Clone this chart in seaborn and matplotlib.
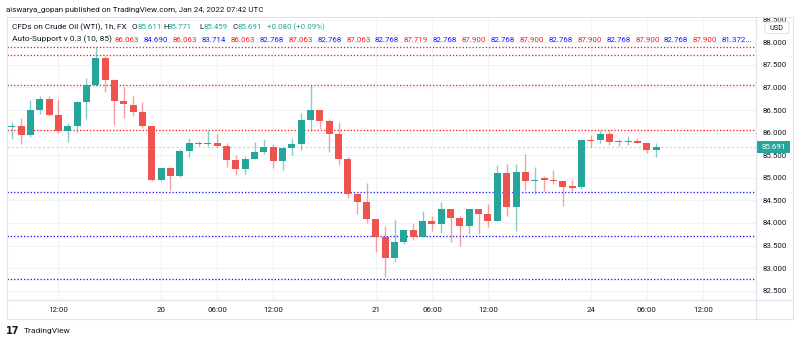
import numpy as np
import pandas as pd
import matplotlib
matplotlib.use("Agg")
import matplotlib.pyplot as plt
import seaborn as sns
from matplotlib.patches import Rectangle, FancyBboxPatch
from matplotlib.lines import Line2D
from matplotlib.transforms import Bbox

# ---------------- data (hourly WTI candles) ----------------
opens = [86.13, 86.14, 85.95, 86.51, 86.75, 86.39, 86.03, 86.14, 86.67, 87.06,
         87.65, 87.17, 86.69, 86.62, 86.46, 86.14, 84.95, 85.22, 85.03, 85.60,
         85.77, 85.75, 85.78, 85.71, 85.39, 85.19, 85.42, 85.56, 85.69, 85.37,
         85.66, 85.75, 86.27, 86.49, 86.25, 85.98, 85.42, 84.64, 84.46, 84.08,
         83.69, 83.23, 83.58, 83.84, 83.69, 84.05, 83.98, 84.30, 84.11, 83.93,
         84.30, 84.19, 84.05, 85.11, 84.36, 85.12, 84.92, 84.97, 84.96, 84.93,
         84.81, 84.80, 85.83, 85.83, 85.97, 85.81, 85.80, 85.82, 85.78, 85.611]
highs = [86.23, 86.33, 86.73, 86.80, 86.80, 86.75, 86.21, 86.71, 87.20, 87.90,
         87.70, 87.19, 87.02, 86.80, 86.67, 86.14, 85.22, 85.25, 85.64, 85.88,
         85.81, 86.06, 85.98, 85.77, 85.50, 85.48, 85.80, 85.86, 85.75, 85.68,
         85.89, 86.43, 87.06, 86.51, 86.30, 86.23, 85.45, 84.64, 84.89, 84.08,
         83.94, 84.06, 83.84, 83.99, 84.26, 84.15, 84.46, 84.30, 84.16, 84.30,
         84.32, 84.43, 85.28, 85.31, 85.31, 85.53, 85.25, 85.03, 85.18, 84.93,
         84.96, 85.85, 85.94, 86.06, 86.06, 85.86, 85.92, 85.89, 85.78, 85.771]
lows = [85.86, 85.75, 85.90, 86.42, 86.36, 86.00, 85.80, 86.02, 86.30, 87.04,
        86.89, 86.17, 86.32, 86.37, 86.11, 84.93, 84.93, 84.72, 85.02, 85.46,
        85.70, 85.70, 85.68, 85.24, 85.07, 85.08, 85.41, 85.53, 85.21, 85.18,
        85.50, 85.62, 86.04, 86.09, 85.57, 85.28, 84.56, 84.21, 84.01, 83.36,
        82.80, 83.13, 83.53, 83.63, 83.68, 83.82, 83.77, 83.57, 83.49, 83.75,
        83.75, 83.91, 84.05, 84.16, 83.83, 84.72, 84.65, 84.71, 84.86, 84.37,
        84.71, 84.76, 85.68, 85.78, 85.72, 85.70, 85.73, 85.76, 85.55, 85.459]
closes = [86.14, 85.95, 86.51, 86.75, 86.39, 86.03, 86.14, 86.67, 87.06, 87.65,
          87.17, 86.69, 86.63, 86.45, 86.14, 84.95, 85.22, 85.03, 85.60, 85.76,
          85.75, 85.77, 85.71, 85.39, 85.19, 85.42, 85.56, 85.69, 85.37, 85.66,
          85.75, 86.27, 86.49, 86.25, 85.98, 85.42, 84.64, 84.46, 84.08, 83.69,
          83.23, 83.58, 83.84, 83.69, 84.05, 83.98, 84.30, 84.11, 83.93, 84.30,
          84.19, 84.05, 85.11, 84.36, 85.12, 84.92, 84.96, 84.96, 84.93, 84.80,
          84.78, 85.83, 85.82, 85.97, 85.79, 85.80, 85.82, 85.78, 85.61, 85.691]

time_tick_pos = [5, 16, 22, 28, 39, 45, 51, 62, 68, 74]
time_tick_labels = ["12:00", "20", "06:00", "12:00", "21", "06:00", "12:00", "24", "06:00", "12:00"]

support_levels = [84.690, 83.714, 82.768]
resistance_levels = [86.063, 87.063, 87.719, 87.900]
last_price = 85.691

legend_values = ["86.063", "84.690", "86.063", "83.714", "86.063", "82.768", "87.063", "82.768",
                 "87.063", "82.768", "87.719", "82.768", "87.900", "82.768", "87.900", "82.768",
                 "87.900", "82.768", "87.900", "82.768", "87.900", "81.372..."]

price_ticks = [82.5, 83.0, 83.5, 84.0, 84.5, 85.0, 85.5, 86.0, 86.5, 87.0, 87.5, 88.0, 88.5]

# ---------------- style ----------------
sns.set_theme(style="white")
plt.rcParams['font.family'] = ['Roboto', 'DejaVu Sans']

UP = "#26a69a"
DOWN = "#ef5350"
TXT = "#131722"
GRID = "#f0f3fa"
BORDER = "#e0e3eb"
RED = "#ff1a1a"
BLUE = "#1a1aff"

W, H = 800, 343
fig = plt.figure(figsize=(W / 100, H / 100), dpi=100)
fig.patch.set_facecolor("white")


def fx(px):
    return px / W


def fy(py):
    return 1 - py / H


ax = fig.add_axes([fx(6.7), fy(300), fx(756) - fx(6.7), fy(16.7) - fy(300)])
ax.set_facecolor("white")

df = pd.DataFrame({"idx": np.arange(len(opens)), "open": opens, "high": highs,
                   "low": lows, "close": closes})
df["up"] = df["close"] >= df["open"]
df["color"] = np.where(df["up"], UP, DOWN)
df["bottom"] = df[["open", "close"]].min(axis=1)
df["height"] = (df["close"] - df["open"]).abs().clip(lower=0.025)

# grid
for p in price_ticks:
    ax.axhline(p, color=GRID, lw=0.8, zorder=0)
for t in time_tick_pos:
    ax.axvline(t, color=GRID, lw=0.8, zorder=0)

# support / resistance dotted lines
for lvl in resistance_levels:
    ax.axhline(lvl, color=RED, lw=0.95, linestyle=(0, (1, 1.5)), zorder=1)
for lvl in support_levels:
    ax.axhline(lvl, color=BLUE, lw=0.95, linestyle=(0, (1, 1.5)), zorder=1)
ax.axhline(last_price, color="#b2e0db", lw=0.8, linestyle=(0, (2, 2)), zorder=1)

# candles
ax.vlines(df["idx"], df["low"], df["high"], colors=df["color"], lw=1.0, alpha=0.55, zorder=2)
ax.bar(df["idx"], df["height"], bottom=df["bottom"], width=0.75, color=df["color"],
       linewidth=0, zorder=3)

ax.set_xlim(-0.54, 79.7)
ax.set_ylim(82.296, 88.565)
for s in ax.spines.values():
    s.set_visible(False)

ax.yaxis.tick_right()
ax.set_yticks(price_ticks)
ax.set_yticklabels([f"{p:.3f}" for p in price_ticks])
ax.tick_params(axis="y", length=0, pad=5, labelsize=5.7, labelcolor=TXT)
clipbox = Bbox.from_extents(756, H - 300, 800, H - 17.5)
for lab in ax.get_yticklabels():
    lab.set_clip_on(True)
    lab.set_clip_box(clipbox)

ax.set_xticks(time_tick_pos)
ax.set_xticklabels(time_tick_labels)
ax.tick_params(axis="x", length=0, pad=5, labelsize=5.7, labelcolor=TXT)
ax.grid(False)

# frame lines of the TradingView panel
def fline(x0, y0, x1, y1, color=BORDER, lw=0.8):
    fig.add_artist(Line2D([fx(x0), fx(x1)], [fy(y0), fy(y1)], color=color, lw=lw,
                          transform=fig.transFigure))

fline(6.7, 16.7, 793, 16.7)
fline(6.7, 300, 793, 300)
fline(6.7, 319, 793, 319)
fline(6.7, 16.7, 6.7, 319)
fline(756, 16.7, 756, 319)
fline(793, 16.7, 793, 319)

# last price label
fig.add_artist(Rectangle((fx(757), fy(153)), fx(790) - fx(757), fy(141) - fy(153),
                         transform=fig.transFigure, facecolor=UP, edgecolor="none"))
fig.text(fx(773.5), fy(147), "85.691", color="white", fontsize=5.7, ha="center", va="center")

# USD box
fig.add_artist(FancyBboxPatch((fx(765), fy(33.5)), fx(789) - fx(765), fy(22) - fy(33.5),
                              boxstyle="round,pad=0,rounding_size=0.004",
                              transform=fig.transFigure, facecolor="white",
                              edgecolor=BORDER, lw=0.8))
fig.text(fx(777), fy(28), "USD", color=TXT, fontsize=5.3, ha="center", va="center")

# header texts
fig.text(fx(6), fy(10), "aiswarya_gopan published on TradingView.com, Jan 24, 2022 07:42 UTC",
         color=TXT, fontsize=5.8, ha="left", va="center")

FS = 5.7
fig.text(fx(12), fy(27), "CFDs on Crude Oil (WTI), 1h, FX", color=TXT, fontsize=5.95, va="center")
for x, s, c in [(132, "O", TXT), (138, "85.611", UP), (163.5, "H", TXT), (168, "85.771", UP),
                (199.5, "L", TXT), (204, "85.459", UP), (232.5, "C", TXT), (238, "85.691", UP),
                (267, "+0.080 (+0.09%)", UP)]:
    fig.text(fx(x), fy(27), s, color=c, fontsize=FS, va="center")

fig.text(fx(12), fy(39.5), "Auto-Support v 0.3 (10, 85)", color=TXT, fontsize=6.0, va="center")
for i, v in enumerate(legend_values):
    col = RED if i % 2 == 0 else BLUE
    fig.text(fx(115 + i * 28.9), fy(39.5), v, color=col, fontsize=FS, va="center")

# footer
fig.text(fx(6), fy(331.5), "17", color=TXT, fontsize=7, fontweight="bold", va="center",
         family=["DejaVu Sans"])
fig.text(fx(24), fy(331.5), "TradingView", color=TXT, fontsize=6, va="center")

fig.savefig("out.png", dpi=100, facecolor="white")
